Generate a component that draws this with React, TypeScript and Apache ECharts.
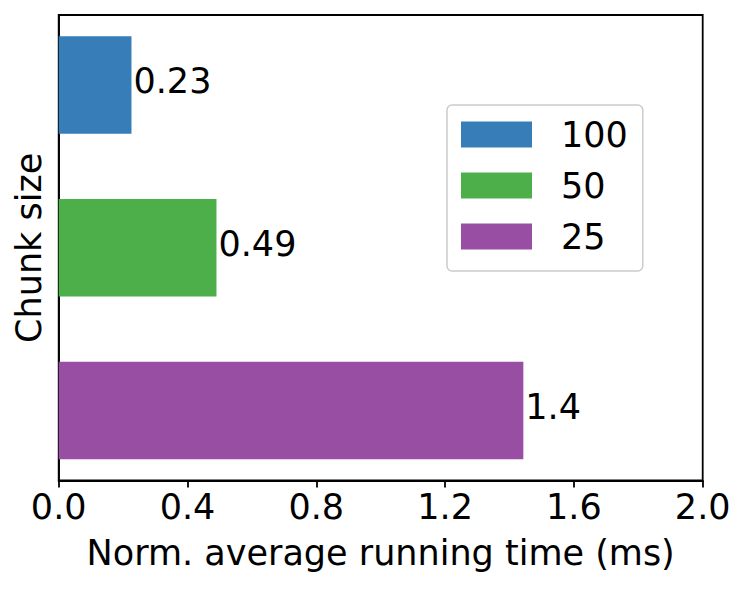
import React, { useEffect, useRef } from "react";
import * as echarts from "echarts";

const categories = ["100", "50", "25"];
const values = [0.226, 0.49, 1.443];
const barLabels = ["0.23", "0.49", "1.4"];
const positions = [2, 1, 0];
const colors = ["#377eb8", "#4daf4a", "#984ea3"];
const xMin = 0;
const xMax = 2.0;
const xInterval = 0.4;
const xTitle = "Norm. average running time (ms)";
const yTitle = "Chunk size";

const FONT = "'DejaVu Sans', sans-serif";

export default function App() {
  const ref = useRef<HTMLDivElement>(null);
  useEffect(() => {
    if (!ref.current) return;
    const chart = echarts.init(ref.current, undefined, { renderer: "svg" });
    const series = categories.map((name, i) => ({
      type: "custom",
      name,
      itemStyle: { color: colors[i] },
      data: [[values[i], positions[i]]],
      renderItem: (params: any, api: any) => {
        const v = api.value(0);
        const y = api.value(1);
        const p0 = api.coord([0, y + 0.3]);
        const p1 = api.coord([v, y - 0.3]);
        return {
          type: "group",
          children: [
            {
              type: "rect",
              shape: { x: p0[0], y: p0[1], width: p1[0] - p0[0], height: p1[1] - p0[1] },
              style: { fill: colors[i] },
            },
            {
              type: "text",
              x: p1[0] + 2,
              y: (p0[1] + p1[1]) / 2 - 4,
              style: {
                text: barLabels[i],
                fill: "#000",
                fontSize: 35,
                fontFamily: FONT,
                verticalAlign: "middle",
                align: "left",
              },
            },
          ],
        };
      },
    }));
    chart.setOption({
      animation: false,
      backgroundColor: "#fff",
      grid: {
        left: 58.7,
        right: 747 - 702.7,
        top: 15,
        bottom: 589 - 480.5,
        show: true,
        borderColor: "#000",
        borderWidth: 1.8,
      },
      xAxis: {
        type: "value",
        min: xMin,
        max: xMax,
        interval: xInterval,
        name: xTitle,
        nameLocation: "middle",
        nameGap: 55,
        nameTextStyle: { fontSize: 35, fontFamily: FONT, color: "#000" },
        axisLine: { show: true, onZero: false, lineStyle: { color: "#000", width: 1.8 } },
        axisTick: { show: true, length: 7, lineStyle: { color: "#000", width: 1.8 } },
        axisLabel: {
          fontSize: 35,
          fontFamily: FONT,
          color: "#000",
          margin: 9,
          formatter: (v: number) => v.toFixed(1),
        },
        splitLine: { show: false },
      },
      yAxis: {
        type: "value",
        min: -0.43,
        max: 2.43,
        name: yTitle,
        nameLocation: "middle",
        nameGap: 12,
        nameTextStyle: { fontSize: 35, fontFamily: FONT, color: "#000" },
        axisLine: { show: true, onZero: false, lineStyle: { color: "#000", width: 1.8 } },
        axisTick: { show: false },
        axisLabel: { show: false },
        splitLine: { show: false },
      },
      legend: {
        data: categories.map((c) => ({ name: c, icon: "rect" })),
        orient: "vertical",
        left: 447,
        top: 105,
        itemWidth: 71,
        itemHeight: 26,
        itemGap: 16,
        padding: [12, 15, 17, 14],
        borderColor: "#cccccc",
        borderWidth: 1.5,
        borderRadius: 5,
        selectedMode: false,
        textStyle: {
          fontSize: 35,
          fontFamily: FONT,
          color: "#000",
          padding: [0, 0, 0, 24],
        },
      },
      series,
    });
    return () => chart.dispose();
  }, []);
  return (
    <div
      ref={ref}
      style={{ position: "fixed", left: 0, top: 0, width: 747, height: 589, background: "#fff" }}
    />
  );
}
